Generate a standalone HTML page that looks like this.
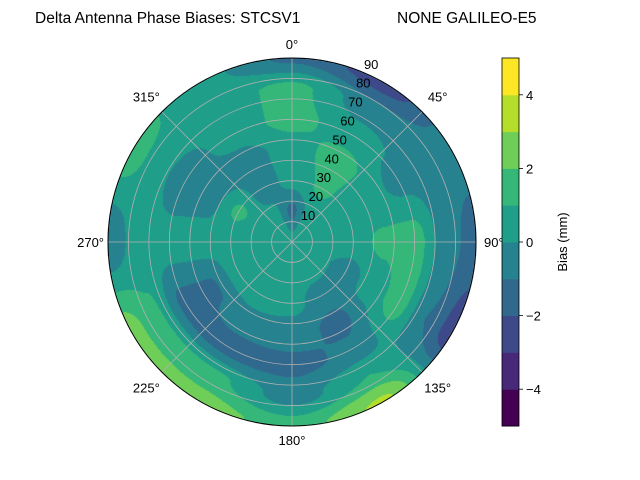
<!DOCTYPE html>
<html><head><meta charset="utf-8"><style>
body{margin:0;background:#fff;}
#wrap{position:relative;width:640px;height:480px;font-family:"Liberation Sans",sans-serif;}
canvas,svg{position:absolute;left:0;top:0;}
</style></head><body>
<div id="wrap">
<canvas id="cv" width="640" height="480"></canvas>
<svg id="sv" width="640" height="480"></svg>
</div>
<script>
// azimuth columns (deg, clockwise from north)
const azimuths=[0,30,60,90,120,150,180,210,240,270,300,330];
// zenith rows (deg)
const zeniths=[0,15,30,45,60,75,90];
// bias values (mm): one row per azimuth, one entry per zenith
const biasRows=[
[0.4,-1.3,0.3,0.5,1.3,1.3,-1.2],
[0.4,0.3,1.2,1.5,0.5,-0.5,-2.5],
[0.4,0.5,0.5,0.3,-0.3,-0.5,-0.5],
[0.4,0.5,0.6,1.2,1.5,-0.5,-1.5],
[0.4,0.3,-0.5,0.5,1.5,-1.0,-2.5],
[0.4,0.5,-0.5,-1.3,-0.8,1.0,3.2],
[0.4,0.5,0.3,-0.5,-1.3,-0.5,1.5],
[0.4,0.5,0.5,-0.5,-1.5,1.2,2.5],
[0.4,0.3,0.5,-1.2,-1.3,1.2,2.5],
[0.4,0.3,0.3,0.5,0.5,0.5,-0.8],
[0.4,0.3,1.2,-0.5,-0.8,0.5,1.5],
[0.4,0.3,-0.5,-0.5,0.5,0.5,0.3]];
const levels=[-5,-4,-3,-2,-1,0,1,2,3,4,5];
const levelColors=["#440154","#482878","#3e4989","#31688e","#26828e","#1f9e89","#35b779","#6ece58","#b5de2b","#fde725"];
const tickLabels=["-4","-2","0","2","4"];
const ringLabels=[10,20,30,40,50,60,70,80,90];

const CX=292,CY=242,R=184;
const NS="http://www.w3.org/2000/svg";
function valueAt(az,zen){
  const na=azimuths.length,step=360/na;
  let a=((az%360)+360)%360/step; let i0=Math.floor(a)%na,i1=(i0+1)%na,fa=a-Math.floor(a);
  let zs=zeniths[1]-zeniths[0]; let z=Math.min(zen/zs,zeniths.length-1.0001);
  let j0=Math.floor(z),j1=j0+1,fz=z-j0;
  const s=t=>t*t*(3-2*t); fa=s(fa); fz=s(fz);
  const v0=biasRows[i0][j0]*(1-fz)+biasRows[i0][j1]*fz;
  const v1=biasRows[i1][j0]*(1-fz)+biasRows[i1][j1]*fz;
  return v0*(1-fa)+v1*fa;
}
function colorFor(v){
  for(let k=0;k<levels.length-1;k++){ if(v<levels[k+1]) return levelColors[k]; }
  return levelColors[levelColors.length-1];
}
const ctx=document.getElementById('cv').getContext('2d');
for(let y=CY-R;y<=CY+R;y++){for(let x=CX-R;x<=CX+R;x++){
  const dx=x+0.5-CX,dy=y+0.5-CY,r=Math.hypot(dx,dy); if(r>R)continue;
  const az=Math.atan2(dx,-dy)*180/Math.PI, zen=r/R*90;
  ctx.fillStyle=colorFor(valueAt(az,zen)); ctx.fillRect(x,y,1,1);
}}
const sv=document.getElementById('sv');
function mk(tag,attrs,text){const e=document.createElementNS(NS,tag);for(const k in attrs)e.setAttribute(k,attrs[k]);if(text!==undefined)e.textContent=text;sv.appendChild(e);return e;}
ringLabels.forEach(z=>{
  const c=mk('circle',{cx:CX,cy:CY,r:R*z/90,fill:'none',stroke:'#b0b0b0','stroke-width':z==90?0:0.8});
  
  
});
for(let a=0;a<360;a+=45){
  const t=a*Math.PI/180;
  const l=mk('line',{x1:CX,y1:CY,x2:CX+R*Math.sin(t),y2:CY-R*Math.cos(t),stroke:'#b0b0b0','stroke-width':0.8});
  
  
  const rr=(a%90)?R+22:R+14;
  const lx=CX+rr*Math.sin(t), ly=CY-rr*Math.cos(t)+5;
  const anchor=(a==90)?'start':(a==270?'end':'middle');
  const tx=mk('text',{x:a==90?484:(a==270?104:lx),y:ly,'font-size':13,'text-anchor':anchor},a+'°');
  
  
}
mk('circle',{cx:CX,cy:CY,r:R,fill:'none',stroke:'#000','stroke-width':1});
ringLabels.forEach((z,i)=>{
  const tx=mk('text',{x:308+i*7.9,y:220-i*18.9,'font-size':13,'text-anchor':'middle'},String(z));
  
  
});
const CBX=502,CBW=17,CBT=58,CBB=426,n=levelColors.length,bh=(CBB-CBT)/n;
levelColors.forEach((c,k)=>{
  const r=mk('rect',{x:CBX,y:CBB-(k+1)*bh,width:CBW,height:bh+0.5,fill:c});
  
  
});
mk('rect',{x:CBX,y:CBT,width:CBW,height:CBB-CBT,fill:'none',stroke:'#000','stroke-width':0.8});
tickLabels.forEach(t=>{
  const v=+t, y=CBB-(v-levels[0])/(levels[levels.length-1]-levels[0])*(CBB-CBT);
  mk('line',{x1:CBX+CBW,y1:y,x2:CBX+CBW+4,y2:y,stroke:'#000','stroke-width':0.8});
  const tx=mk('text',{x:CBX+CBW+7,y:y+5,'font-size':13},t.replace('-','−'));
  
  
});
const cbl=mk('text',{x:0,y:0,'font-size':13,'text-anchor':'middle',transform:'translate(567,242) rotate(-90)'},'Bias (mm)');


const ti=mk('text',{x:35,y:23,'font-size':15.5},'Delta Antenna Phase Biases: STCSV1');


const ti2=mk('text',{x:397,y:23,'font-size':15.5},'NONE GALILEO-E5');


</script>
</body></html>
